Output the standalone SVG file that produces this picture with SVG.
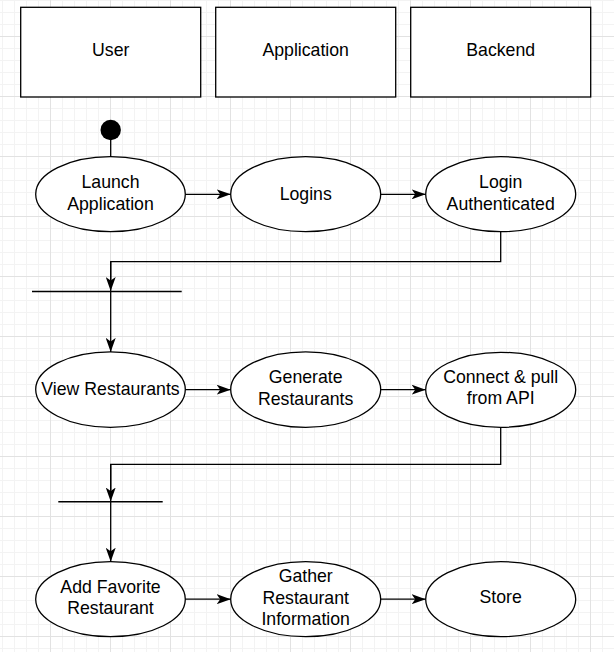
<svg xmlns="http://www.w3.org/2000/svg" width="614" height="652" viewBox="0 0 614 652">
<style>
.shape{fill:#fff;stroke:#000;stroke-width:1.3}
.lbl{font-family:"Liberation Sans",Arial,sans-serif;font-size:17.7px;fill:#000;text-anchor:middle}
.edge{fill:none;stroke:#000;stroke-width:1.3}
.bar{fill:none;stroke:#000;stroke-width:1.4}
</style>
<defs>
<pattern id="grid" patternUnits="userSpaceOnUse" x="50" y="36" width="60" height="60">
<rect x="12" y="0" width="1" height="60" fill="#f3f3f3"/>
<rect x="24" y="0" width="1" height="60" fill="#f3f3f3"/>
<rect x="36" y="0" width="1" height="60" fill="#f3f3f3"/>
<rect x="48" y="0" width="1" height="60" fill="#f3f3f3"/>
<rect x="0" y="12" width="60" height="1" fill="#f3f3f3"/>
<rect x="0" y="24" width="60" height="1" fill="#f3f3f3"/>
<rect x="0" y="36" width="60" height="1" fill="#f3f3f3"/>
<rect x="0" y="48" width="60" height="1" fill="#f3f3f3"/>
<rect x="0" y="0" width="1" height="60" fill="#e2e2e2"/>
<rect x="0" y="0" width="60" height="1" fill="#e2e2e2"/>
</pattern>
<marker id="arr" markerUnits="userSpaceOnUse" markerWidth="14" markerHeight="10" refX="14" refY="5" orient="auto" viewBox="0 0 14 10">
<path d="M0,0 L14,5 L0,10 L3.5,5 Z" fill="#000"/>
</marker>
</defs>
<rect width="614" height="652" fill="#fff"/>
<rect width="614" height="652" fill="url(#grid)"/>

<g id="lane-user"><rect class="shape" x="20.7" y="7.3" width="180" height="89.7"/><text class="lbl" x="110.7" y="56">User</text></g>
<g id="lane-application"><rect class="shape" x="215.7" y="7.3" width="180" height="89.7"/><text class="lbl" x="305.7" y="56">Application</text></g>
<g id="lane-backend"><rect class="shape" x="410.7" y="7.3" width="180" height="89.7"/><text class="lbl" x="500.7" y="56">Backend</text></g>

<g id="start"><circle cx="110.7" cy="130" r="10.2" fill="#000"/></g>

<g id="launch"><ellipse class="shape" cx="110.5" cy="194.2" rx="74.8" ry="37.5"/><text class="lbl" x="110.5" y="188.3">Launch</text><text class="lbl" x="110.5" y="210">Application</text></g>
<g id="logins"><ellipse class="shape" cx="305.7" cy="194.2" rx="75" ry="37.5"/><text class="lbl" x="305.7" y="200">Logins</text></g>
<g id="login-auth"><ellipse class="shape" cx="500.7" cy="194.2" rx="75" ry="37.5"/><text class="lbl" x="500.7" y="188.3">Login</text><text class="lbl" x="500.7" y="210">Authenticated</text></g>

<g id="fork1"><line class="bar" x1="32" y1="291.5" x2="181.7" y2="291.5"/></g>

<g id="view"><ellipse class="shape" cx="110.5" cy="389.6" rx="74.8" ry="37.7"/><text class="lbl" x="110.5" y="394.5">View Restaurants</text></g>
<g id="generate"><ellipse class="shape" cx="305.7" cy="389.6" rx="75" ry="37.7"/><text class="lbl" x="305.7" y="382.9">Generate</text><text class="lbl" x="305.7" y="404.6">Restaurants</text></g>
<g id="connect"><ellipse class="shape" cx="500.7" cy="389.8" rx="75" ry="37.5"/><text class="lbl" x="500.7" y="382.7">Connect &amp; pull</text><text class="lbl" x="500.7" y="404.4">from API</text></g>

<g id="fork2"><line class="bar" x1="58.3" y1="501.7" x2="162.7" y2="501.7"/></g>

<g id="add-fav"><ellipse class="shape" cx="110.5" cy="599.2" rx="74.8" ry="37.5"/><text class="lbl" x="110.5" y="592.7">Add Favorite</text><text class="lbl" x="110.5" y="614.3">Restaurant</text></g>
<g id="gather"><ellipse class="shape" cx="305.7" cy="599.2" rx="75" ry="37.5"/><text class="lbl" x="305.7" y="582.3">Gather</text><text class="lbl" x="305.7" y="603.6">Restaurant</text><text class="lbl" x="305.7" y="625">Information</text></g>
<g id="store"><ellipse class="shape" cx="500.7" cy="599.2" rx="75" ry="37.5"/><text class="lbl" x="500.7" y="603.4">Store</text></g>

<g id="connectors">
<path class="edge" d="M110.7,140 V156.7"/>
<path class="edge" marker-end="url(#arr)" d="M185.3,194.3 H230.7"/>
<path class="edge" marker-end="url(#arr)" d="M380.7,194.3 H425.7"/>
<path class="edge" d="M500.7,231.7 V261.7 H110.7 V280"/>
<path class="edge" marker-end="url(#arr)" d="M110.7,262 V291"/>
<path class="edge" marker-end="url(#arr)" d="M110.7,291.5 V351.9"/>
<path class="edge" marker-end="url(#arr)" d="M185.3,389.7 H230.7"/>
<path class="edge" marker-end="url(#arr)" d="M380.7,389.7 H425.7"/>
<path class="edge" d="M500.7,427.3 V464.3 H110.7 V490"/>
<path class="edge" marker-end="url(#arr)" d="M110.7,464.3 V501.5"/>
<path class="edge" marker-end="url(#arr)" d="M110.7,501.7 V561.7"/>
<path class="edge" marker-end="url(#arr)" d="M185.3,599.2 H230.7"/>
<path class="edge" marker-end="url(#arr)" d="M380.7,599.2 H425.7"/>
</g>
</svg>
